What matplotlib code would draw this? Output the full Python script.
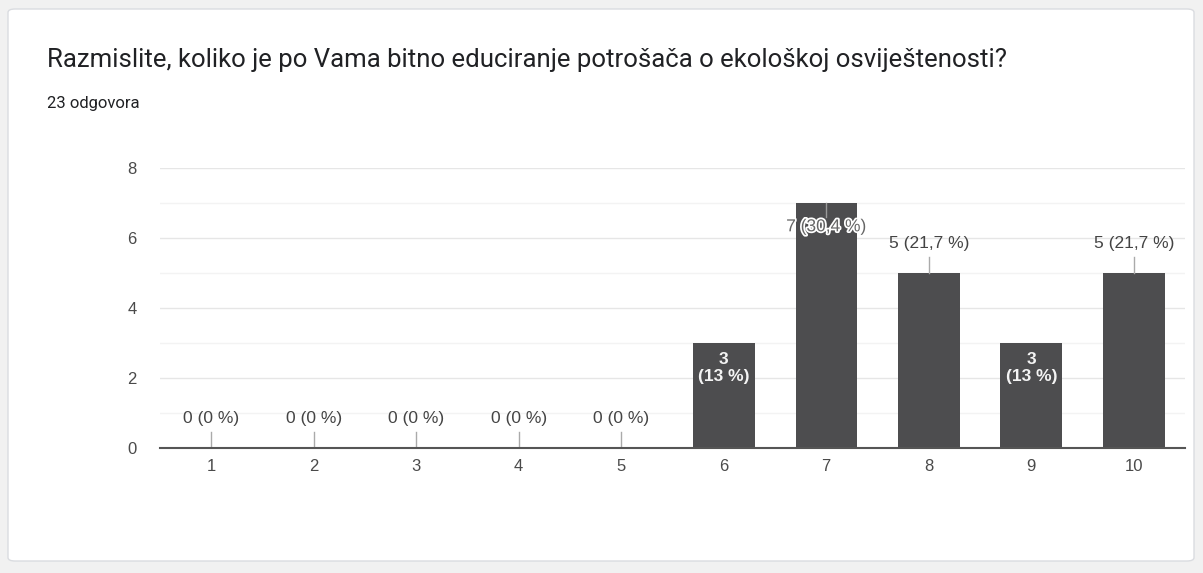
import matplotlib.pyplot as plt
import matplotlib.patheffects as pe
from matplotlib.patches import FancyBboxPatch

# Dados do gráfico
categories = [1, 2, 3, 4, 5, 6, 7, 8, 9, 10]
counts = [0, 0, 0, 0, 0, 3, 7, 5, 3, 5]
labels = ["0 (0 %)", "0 (0 %)", "0 (0 %)", "0 (0 %)", "0 (0 %)",
          "3\n(13 %)", "7 (30,4 %)", "5 (21,7 %)", "3\n(13 %)", "5 (21,7 %)"]
title = "Razmislite, koliko je po Vama bitno educiranje potrošača o ekološkoj osviještenosti?"
subtitle = "23 odgovora"

plt.rcParams['font.family'] = ['Roboto', 'DejaVu Sans']
chart_font = ['Liberation Sans', 'DejaVu Sans']

W, H = 1203, 573
fig = plt.figure(figsize=(W / 100, H / 100), dpi=100, facecolor='#f1f1f1')

# Cartão branco de fundo
card = FancyBboxPatch((8 / W, 12 / H), 1186 / W, 552 / H,
                      boxstyle="round,pad=0,rounding_size=0.006",
                      transform=fig.transFigure, facecolor='white',
                      edgecolor='#dadce0', linewidth=1, zorder=-1)
fig.patches.append(card)

fig.text(47 / W, 1 - 60 / H, title, fontsize=18.5, color='#202124', va='center')
fig.text(47 / W, 1 - 103 / H, subtitle, fontsize=12, color='#202124', va='center')

ax = fig.add_axes([160 / W, 1 - 448 / H, 1025 / W, 280 / H], zorder=2)
ax.set_facecolor('none')

bar_color = '#4d4d4f'
ax.bar(categories, counts, width=0.6, color=bar_color, zorder=3)

ax.set_xlim(0.5, 10.5)
ax.set_ylim(0, 8)
ax.set_yticks([0, 2, 4, 6, 8])
ax.set_yticks([1, 3, 5, 7], minor=True)
ax.set_xticks(categories)
ax.grid(axis='y', which='major', color='#e6e6e6', linewidth=1, zorder=0)
ax.grid(axis='y', which='minor', color='#f3f3f3', linewidth=1, zorder=0)
for side in ['top', 'right', 'left']:
    ax.spines[side].set_visible(False)
ax.spines['bottom'].set_color('#555555')
ax.spines['bottom'].set_linewidth(1.5)
ax.spines['bottom'].set_zorder(4)
ax.tick_params(axis='both', which='both', length=0, labelsize=12, colors='#4a4a4a')
ax.tick_params(axis='x', pad=8)
ax.tick_params(axis='y', pad=17)
for t in ax.get_xticklabels() + ax.get_yticklabels():
    t.set_family(chart_font)

# Rótulos dos valores
fs = 12.5
for x, c, lab in zip(categories, counts, labels):
    if c == 3:
        ax.text(x, c - 0.72, lab, ha='center', va='center', fontsize=fs,
                family=chart_font, color='#f4f4f4', fontweight='bold',
                linespacing=1.15, zorder=5)
    elif c == 7:
        ax.plot([x, x], [c, c - 0.4], color='#999999', linewidth=1, zorder=4)
        ax.text(x, c - 0.68, lab, ha='center', va='center', fontsize=fs,
                family=chart_font, color='#666666', zorder=5,
                path_effects=[pe.withStroke(linewidth=2.5, foreground='white')])
    else:
        ax.plot([x, x], [c, c + 0.45], color='#aaaaaa', linewidth=1, zorder=4)
        ax.text(x, c + 0.85, lab, ha='center', va='center', fontsize=fs,
                family=chart_font, color='#444444', zorder=5)

fig.savefig('out.png', dpi=100, facecolor=fig.get_facecolor())
